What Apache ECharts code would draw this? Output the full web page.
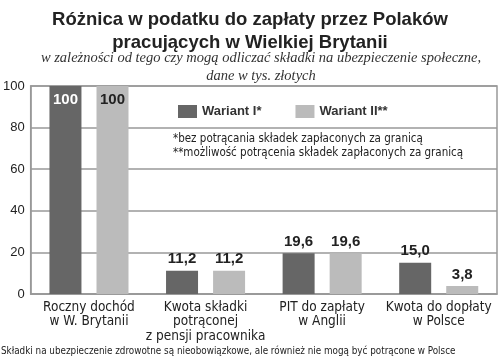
<!DOCTYPE html>
<html><head><meta charset="utf-8">
<script src="https://cdn.jsdelivr.net/npm/echarts@6/dist/echarts.min.js"></script>
<style>html,body{margin:0;padding:0;background:#fff}#c{width:500px;height:360px}</style>
</head><body><div id="c"></div>
<script>
const categories = ['Roczny dochód\nw W. Brytanii', 'Kwota składki\npotrąconej\nz pensji pracownika', 'PIT do zapłaty\nw Anglii', 'Kwota do dopłaty\nw Polsce'];
const seriesNames = ['Wariant I*', 'Wariant II**'];
const wariant1 = [100, 11.2, 19.6, 15.0];
const wariant2 = [100, 11.2, 19.6, 3.8];
const yTicks = [0, 20, 40, 60, 80, 100];

const fmt = p => p.value === 100 ? '100' : p.value.toFixed(1).replace('.', ',');
const chart = echarts.init(document.getElementById('c'));
const labelBase = {show: true, position: 'top', distance: 4, formatter: fmt, fontFamily: 'Liberation Sans', fontWeight: 'bold', fontSize: 15, color: '#222'};
function dataWithTop(vals, topColor) {
  return vals.map(v => v === 100 ? {value: v, label: {position: 'insideTop', distance: 6, color: topColor}} : v);
}
chart.setOption({
  animation: false,
  title: [
    {text: 'Różnica w podatku do zapłaty przez Polaków\npracujących w Wielkiej Brytanii', left: 'center', top: 3,
     textStyle: {fontFamily: 'Liberation Sans', fontWeight: 'bold', fontSize: 18.5, lineHeight: 23, color: '#222'}}
  ],
  legend: {left: 173, top: 100, itemWidth: 19, itemHeight: 13, itemGap: 34, icon: 'rect',
    textStyle: {fontFamily: 'Liberation Sans', fontWeight: 'bold', fontSize: 13, color: '#333'}, data: seriesNames},
  graphic: [
    {type: 'text', x: 261, y: 49, style: {text: 'w zależności od tego czy mogą odliczać składki na ubezpieczenie społeczne,\ndane w tys. złotych', align: 'center', fontFamily: 'Liberation Serif', fontStyle: 'italic', fontSize: 14.5, lineHeight: 18, fill: '#333'}},
    {type: 'text', left: 173, top: 132, style: {text: '*bez potrącania składek zapłaconych za granicą\n**możliwość potrącenia składek zapłaconych za granicą', fontFamily: 'DejaVu Sans Condensed', fontSize: 11.5, lineHeight: 14, fill: '#222'}},
    {type: 'text', left: 1, top: 346, style: {text: 'Składki na ubezpieczenie zdrowotne są nieobowiązkowe, ale również nie mogą być potrącone w Polsce', fontFamily: 'DejaVu Sans Condensed', fontSize: 9.8, fill: '#222'}}
  ],
  grid: {left: 30, right: 3, top: 86, bottom: 66, show: true, borderColor: '#999', borderWidth: 1.5, backgroundColor: 'transparent'},
  xAxis: {type: 'category', data: categories,
    axisLine: {show: true, lineStyle: {color: '#999', width: 1.5}}, axisTick: {show: false},
    axisLabel: {fontFamily: 'DejaVu Sans Condensed', fontSize: 13.5, lineHeight: 14.5, color: '#222', margin: 6, interval: 0}},
  yAxis: {type: 'value', min: yTicks[0], max: yTicks[yTicks.length - 1], interval: 20,
    axisLine: {show: true, lineStyle: {color: '#999', width: 1.5}}, axisTick: {show: false},
    splitLine: {lineStyle: {color: '#999', width: 1.5}},
    axisLabel: {fontFamily: 'Liberation Sans', fontSize: 13, color: '#222', margin: 6,
      formatter: v => yTicks.includes(v) ? String(v) : ''}},
  series: [
    {name: seriesNames[0], type: 'bar', barWidth: 32, barGap: '47%', itemStyle: {color: '#666'}, label: labelBase, data: dataWithTop(wariant1, '#fff')},
    {name: seriesNames[1], type: 'bar', barWidth: 32, itemStyle: {color: '#bbb'}, label: labelBase, data: dataWithTop(wariant2, '#222')}
  ]
});
</script></body></html>
